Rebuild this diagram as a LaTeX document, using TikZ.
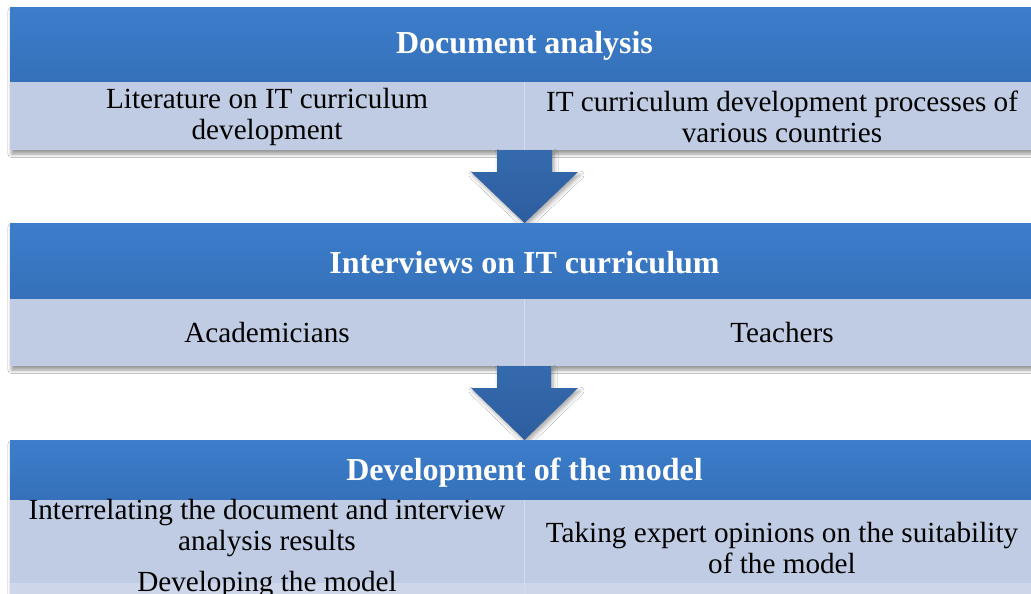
\documentclass[tikz,border=0pt]{standalone}
\usepackage{fontspec}
\setmainfont{Liberation Serif}
\usetikzlibrary{shadows.blur}
\definecolor{hdtop}{HTML}{3C7DCB}
\definecolor{hdbot}{HTML}{3571BA}
\definecolor{cellc}{HTML}{C0CCE3}
\definecolor{cellband}{HTML}{CED7EA}
\definecolor{divc}{HTML}{D4DCEC}
\definecolor{artop}{HTML}{356AAE}
\definecolor{arbot}{HTML}{2D5E9F}
\tikzset{
  hdr/.style={anchor=north west, inner sep=0pt, minimum width=1030pt,
    top color=hdtop, bottom color=hdbot, draw=none},
  hdrtext/.style={inner sep=0pt, text=white, font=\fontsize{32}{36}\selectfont\bfseries},
  cell/.style={anchor=north west, inner sep=0pt, fill=cellc, draw=none},
  celltext/.style={inner sep=0pt, align=center,
    font=\fontsize{29.2}{30.5}\selectfont},
  boxshadow/.style={fill=white, blur shadow={shadow xshift=1.5pt, shadow yshift=-4pt,
    shadow blur radius=3.5pt, shadow opacity=40}},
  blockarrow/.style={top color=artop, bottom color=arbot, draw=none,
    blur shadow={shadow xshift=2pt, shadow yshift=-3pt, shadow blur radius=4pt, shadow opacity=35}},
  divline/.style={draw=divc, line width=1.5pt}
}
\begin{document}
\begin{tikzpicture}[x=1pt,y=-1pt]
\useasboundingbox (0,0) rectangle (1031,594);
\path[clip] (0,0) rectangle (1031,594);
\fill[white] (0,0) rectangle (1031,594);

% ---------- Box 1 ----------
\path[boxshadow] (10,7) rectangle (1040,150);
\node[hdr, minimum height=75pt] (h1) at (10,7) {};
\node[hdrtext] (h1t) at (524.5,46) {Document analysis};
\node[cell, minimum width=514pt, minimum height=68pt] (c1l) at (10,82) {};
\node[cell, minimum width=516pt, minimum height=68pt] (c1r) at (524,82) {};
\draw[divline] (c1l.north east) -- (c1l.south east);
\node[celltext] (t1a) at (267,117) {Literature on IT curriculum\\development};
\node[celltext] (t1b) at (782,117) {IT curriculum development processes of\\various countries};

% ---------- Arrow 1 ----------
\path[blockarrow] (497,150) -- (552,150) -- (552,172) -- (578,172) -- (524.5,223)
  -- (471,172) -- (497,172) -- cycle;

% ---------- Box 2 ----------
\path[boxshadow] (10,223) rectangle (1040,366);
\node[hdr, minimum height=76pt] (h2) at (10,223) {};
\node[hdrtext] (h2t) at (524.5,263) {Interviews on IT curriculum};
\node[cell, minimum width=514pt, minimum height=67pt] (c2l) at (10,299) {};
\node[cell, minimum width=516pt, minimum height=67pt] (c2r) at (524,299) {};
\draw[divline] (c2l.north east) -- (c2l.south east);
\node[celltext] (t2a) at (267,333) {Academicians};
\node[celltext] (t2b) at (782,333) {Teachers};

% ---------- Arrow 2 ----------
\path[blockarrow] (497,366) -- (551,366) -- (551,388) -- (578,388) -- (524.5,440)
  -- (471,388) -- (497,388) -- cycle;

% ---------- Box 3 ----------
\path[boxshadow] (10,440) rectangle (1040,600);
\node[hdr, minimum height=60pt] (h3) at (10,440) {};
\node[hdrtext] (h3t) at (524.5,473) {Development of the model};
\node[cell, minimum width=514pt, minimum height=100pt] (c3l) at (10,500) {};
\node[cell, minimum width=516pt, minimum height=100pt] (c3r) at (524,500) {};
\fill[cellband] (10,583) rectangle (1040,600);
\draw[divline] (c3l.north east) -- (c3l.south east);
\node[celltext] (t3a) at (267,528) {Interrelating the document and interview\\analysis results};
\node[celltext] (t3b) at (267,585) {Developing the model};
\node[celltext] (t3c) at (782,548) {Taking expert opinions on the suitability\\of the model};
\end{tikzpicture}
\end{document}
